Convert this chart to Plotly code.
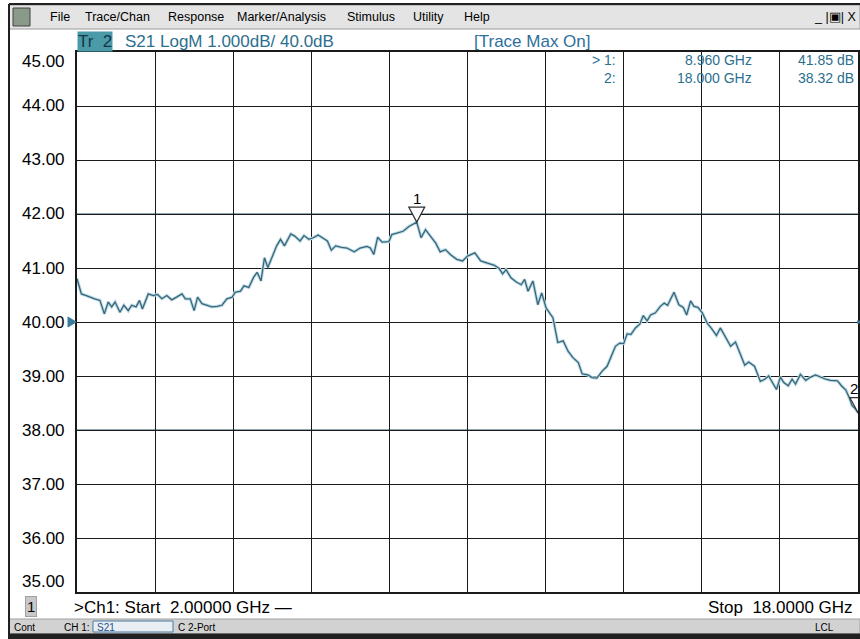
import plotly.graph_objects as go

# S21 trace (GHz, dB)
freq_ghz = [2.00, 2.09, 2.19, 2.26, 2.36, 2.47, 2.56, 2.64, 2.71, 2.78, 2.88, 2.96, 3.05, 3.12,
            3.21, 3.28, 3.34, 3.46, 3.56, 3.65, 3.74, 3.84, 3.94, 4.04, 4.15, 4.22, 4.32, 4.40,
            4.47, 4.56, 4.66, 4.76, 4.87, 4.97, 5.07, 5.18, 5.24, 5.35, 5.42, 5.52, 5.62, 5.69,
            5.77, 5.84, 5.91, 6.00, 6.09, 6.17, 6.25, 6.38, 6.46, 6.57, 6.65, 6.75, 6.84, 6.94,
            7.03, 7.13, 7.21, 7.30, 7.42, 7.53, 7.68, 7.80, 7.94, 8.01, 8.08, 8.16, 8.25, 8.39,
            8.45, 8.56, 8.68, 8.80, 8.89, 8.96, 9.05, 9.14, 9.24, 9.35, 9.44, 9.55, 9.66, 9.78,
            9.90, 10.00, 10.15, 10.27, 10.41, 10.55, 10.65, 10.72, 10.79, 10.89, 11.00, 11.10,
            11.17, 11.24, 11.34, 11.44, 11.52, 11.61, 11.68, 11.75, 11.85, 11.96, 12.06, 12.16,
            12.27, 12.35, 12.47, 12.55, 12.65, 12.76, 12.86, 12.94, 13.03, 13.12, 13.20, 13.27,
            13.35, 13.44, 13.53, 13.60, 13.68, 13.75, 13.85, 13.95, 14.03, 14.10, 14.23, 14.33,
            14.42, 14.49, 14.57, 14.64, 14.72, 14.81, 14.91, 14.99, 15.10, 15.18, 15.29, 15.39,
            15.49, 15.59, 15.68, 15.76, 15.88, 16.00, 16.09, 16.17, 16.24, 16.33, 16.41, 16.48,
            16.57, 16.65, 16.72, 16.82, 16.93, 17.03, 17.13, 17.23, 17.34, 17.44, 17.58, 17.66,
            17.75, 17.82, 17.88, 17.94, 18.00]
s21_db = [40.80, 40.52, 40.49, 40.46, 40.43, 40.40, 40.15, 40.37, 40.28, 40.37, 40.18, 40.31, 40.21, 40.31,
          40.28, 40.40, 40.24, 40.52, 40.49, 40.51, 40.43, 40.49, 40.41, 40.46, 40.52, 40.43, 40.43, 40.21,
          40.46, 40.34, 40.31, 40.28, 40.29, 40.31, 40.43, 40.46, 40.55, 40.57, 40.67, 40.64, 40.83, 40.92,
          40.76, 41.19, 41.01, 41.22, 41.41, 41.53, 41.41, 41.63, 41.59, 41.50, 41.60, 41.53, 41.56, 41.61,
          41.56, 41.50, 41.33, 41.41, 41.38, 41.37, 41.30, 41.37, 41.40, 41.37, 41.25, 41.57, 41.48, 41.49,
          41.62, 41.65, 41.68, 41.77, 41.82, 41.85, 41.56, 41.71, 41.59, 41.46, 41.30, 41.34, 41.24, 41.16,
          41.13, 41.22, 41.28, 41.13, 41.09, 41.05, 40.99, 40.89, 40.97, 40.82, 40.74, 40.69,
          40.79, 40.57, 40.76, 40.32, 40.54, 40.26, 40.17, 40.08, 39.62, 39.65, 39.46, 39.34,
          39.25, 39.04, 39.02, 38.97, 38.96, 39.09, 39.18, 39.35, 39.55, 39.61, 39.60, 39.78,
          39.77, 39.89, 39.96, 40.12, 40.02, 40.13, 40.17, 40.29, 40.35, 40.31, 40.55, 40.32,
          40.27, 40.13, 40.39, 40.29, 40.27, 40.17, 39.98, 39.89, 39.75, 39.89, 39.71, 39.55,
          39.63, 39.40, 39.20, 39.26, 39.18, 38.90, 38.94, 39.00, 38.88, 38.75, 38.98, 38.88,
          38.82, 38.94, 38.85, 39.03, 38.92, 38.98, 39.02, 38.98, 38.94, 38.92, 38.91, 38.82,
          38.74, 38.60, 38.45, 38.40, 38.32]

marker_names = ["1", "2"]
marker_freq = [8.960, 18.000]
marker_db = [41.85, 38.32]

y_ticks = [45, 44, 43, 42, 41, 40, 39, 38, 37, 36, 35]
tinted_levels = [42, 38]
ref_level = 40.0
start_ghz, stop_ghz = 2.0, 18.0

W, H = 860, 639
FONT = "Liberation Sans, Arial, sans-serif"
TEAL = "#2c6f8e"


def px(x):
    return x / W


def py(y):
    return 1 - y / H


fig = go.Figure()
fig.add_trace(go.Scatter(x=freq_ghz, y=s21_db, mode="lines",
                         line=dict(color="#b9dbe8", width=3.2), hoverinfo="skip"))
fig.add_trace(go.Scatter(x=freq_ghz, y=s21_db, mode="lines",
                         line=dict(color="#3b6576", width=1.3)))

shapes = []
ann = []


def text(x, y, s, size=17, color="black", anchor="left", **kw):
    ann.append(dict(x=px(x), y=py(y), xref="paper", yref="paper", text=s, showarrow=False,
                    xanchor=anchor, yanchor="middle", font=dict(family=FONT, size=size, color=color), **kw))


def rect(x0, y0, x1, y1, fill, line=None, lw=1):
    shapes.append(dict(type="rect", xref="paper", yref="paper", x0=px(x0), x1=px(x1), y0=py(y0), y1=py(y1),
                       fillcolor=fill, line=dict(color=line or fill, width=lw), layer="below"))


# window frame, menu bar and status bar
rect(9, 5, 860, 29, "#e4e4e4", "#9a9a9a")
shapes.append(dict(type="line", xref="paper", yref="paper", x0=px(9), x1=px(9), y0=0, y1=py(4),
                   line=dict(color="#202020", width=2)))
shapes.append(dict(type="line", xref="paper", yref="paper", x0=px(9), x1=1, y0=py(4), y1=py(4),
                   line=dict(color="#202020", width=2)))
rect(9, 619, 860, 634, "#d2d2d2", "#a0a0a0")
rect(9, 634, 860, 639, "#202020")
rect(13, 8, 30, 26, "#8a9a8a", "#404040")

for label, x in [("File", 48), ("Trace/Chan", 83), ("Response", 166), ("Marker/Analysis", 235),
                 ("Stimulus", 345), ("Utility", 411), ("Help", 462)]:
    text(x, 17, label, size=12.5)
text(858, 17, "_ |&#9635;| X", size=12.5, anchor="right")

# header row
text(77, 41, "Tr&nbsp;&nbsp;2", color="#163646", bgcolor="#4b9aa9", borderpad=0)
text(123, 41, "S21 LogM 1.000dB/ %.1fdB" % ref_level, color=TEAL)
text(472, 41, "[Trace Max On]", color="#2e6f9c")

# marker table
for i, (n, f, v) in enumerate(zip(marker_names, marker_freq, marker_db)):
    yy = 60 + 18 * i
    kw = dict(size=14, color=TEAL, anchor="right", borderpad=0)
    text(617, yy, ("> " if i == 0 else "") + n + ":", **kw)
    text(753, yy, "%.3f GHz" % f, **kw)
    text(855, yy, "%.2f dB" % v, **kw)

# y labels
for v in y_ticks:
    shift = -10 if v == y_ticks[0] else (11 if v == y_ticks[-1] else 0)
    ann.append(dict(x=px(67), y=v, xref="paper", yref="y", text="%.2f" % v, showarrow=False,
                    xanchor="right", yanchor="middle", yshift=shift,
                    font=dict(family=FONT, size=17, color="black")))

# tinted grid lines
for v in tinted_levels:
    shapes.append(dict(type="line", xref="x", yref="y", x0=start_ghz, x1=stop_ghz, y0=v, y1=v,
                       line=dict(color="#6f8c9a", width=1.4), layer="below"))

# reference level pointers (left arrow, small tick on the right border)
shapes.append(dict(type="path", xref="paper", yref="y", xsizemode="pixel", ysizemode="pixel",
                   xanchor=px(77), yanchor=ref_level, path="M -9,-5 L -1,0 L -9,5 Z",
                   fillcolor="#3a7a9a", line=dict(color="#3a7a9a", width=1)))
shapes.append(dict(type="line", xref="paper", yref="y", x0=px(857), x1=1, y0=ref_level, y1=ref_level,
                   line=dict(color="#3a7a9a", width=3)))

# markers
for n, f, v in zip(marker_names, marker_freq, marker_db):
    shapes.append(dict(type="path", xref="x", yref="y", xsizemode="pixel", ysizemode="pixel",
                       xanchor=f, yanchor=v, path="M -8,15 L 8,15 L 0,0 Z",
                       fillcolor="white", line=dict(color="#303030", width=1.2)))
    last = f == stop_ghz
    ann.append(dict(x=f, y=v, xref="x", yref="y", text=n, showarrow=False, yshift=24,
                    xanchor="right" if last else "center", xshift=2 if last else 0,
                    font=dict(family=FONT, size=15, color="black")))

# bottom row
text(25, 606, "1", bgcolor="#c8c8c8", bordercolor="#a0a0a0", borderpad=1, size=15)
text(72, 607, ">Ch1: Start  %.5f GHz \u2014" % start_ghz)
text(855, 607, "Stop  %.4f GHz" % stop_ghz, anchor="right")

# status bar
rect(93, 621, 173, 632, "#e8eef2", "#4a7aa0")
text(12, 627, "Cont", size=10)
text(62, 627, "CH 1:", size=10)
text(95, 627, "S21", size=10, color="#1f4f8f")
text(176, 627, "C 2-Port", size=10)
text(813, 627, "LCL", size=10)

fig.update_layout(
    width=W, height=H, margin=dict(l=0, r=0, t=0, b=0),
    paper_bgcolor="white", plot_bgcolor="white", showlegend=False,
    shapes=shapes, annotations=ann,
    xaxis=dict(range=[start_ghz, stop_ghz], domain=[px(77), px(858)], tick0=start_ghz, dtick=1.6,
               showticklabels=False, ticks="", showgrid=True, gridcolor="#1a1a1a", gridwidth=1.3,
               zeroline=False, showline=True, linecolor="#1a1a1a", linewidth=1.5, mirror=True),
    yaxis=dict(range=[y_ticks[-1], y_ticks[0]], domain=[py(592), py(52)], dtick=1,
               showticklabels=False, ticks="", showgrid=True, gridcolor="#1a1a1a", gridwidth=1.3,
               zeroline=False, showline=True, linecolor="#1a1a1a", linewidth=1.5, mirror=True),
)

# drop the browser's default 8px body margin so the figure sits at the window corner
fig.write_html("out.html", config={"displayModeBar": False},
               post_script="document.body.style.margin='0';document.body.style.overflow='hidden';")
